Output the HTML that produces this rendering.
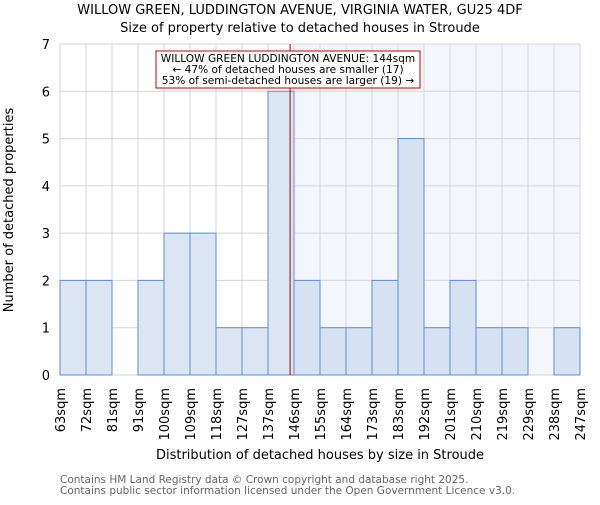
<!DOCTYPE html>
<html><head><meta charset="utf-8"><style>body{margin:0;background:#fff}svg text{font-family:"DejaVu Sans","Liberation Sans",sans-serif}</style></head>
<body>
<svg id="c" width="600" height="500" xmlns="http://www.w3.org/2000/svg"></svg>
<script>
const labels=["63sqm","72sqm","81sqm","91sqm","100sqm","109sqm","118sqm","127sqm","137sqm","146sqm","155sqm","164sqm","173sqm","183sqm","192sqm","201sqm","210sqm","219sqm","229sqm","238sqm","247sqm"];
const counts=[2,2,0,2,3,3,1,1,6,2,1,1,2,5,1,2,1,1,0,1];
const yTicks=[0,1,2,3,4,5,6,7];
const markerBin=8.85;
const NS="http://www.w3.org/2000/svg";
const svg=document.getElementById('c');
const X0=60,X1=580,Y0=375,Y1=44,n=counts.length;
const xs=i=>X0+(X1-X0)*i/n;
const ys=v=>Y0-(Y0-Y1)*v/7;
function el(t,a,txt){const e=document.createElementNS(NS,t);for(const k in a)e.setAttribute(k,a[k]);if(txt!=null)e.textContent=txt;svg.appendChild(e);return e;}
const mx=xs(markerBin);
let e=el('rect',{x:mx,y:Y1,width:X1-mx,height:Y0-Y1,fill:'#f3f6fd'});


for(let i=0;i<=n;i++){e=el('line',{x1:xs(i),x2:xs(i),y1:Y1,y2:Y0,stroke:'#d6d6d6','stroke-width':1});

}
yTicks.forEach(v=>{e=el('line',{x1:X0,x2:X1,y1:ys(v),y2:ys(v),stroke:'#d6d6d6','stroke-width':1});


e=el('text',{x:50,y:ys(v)+5,'text-anchor':'end','font-size':13,fill:'#000'},String(v));

});
counts.forEach((c,i)=>{if(!c)return;const after=i>=9;
e=el('rect',{x:xs(i),y:ys(c),width:xs(i+1)-xs(i),height:Y0-ys(c),fill:after?'#d6e1f2':'#dce6f3',stroke:'#5b8ed6','stroke-width':1});

});
labels.forEach((l,i)=>{const x=xs(i)+5;
e=el('text',{x:x,y:388,transform:`rotate(-90 ${x} 388)`,'text-anchor':'end','font-size':13},l);

});
e=el('line',{x1:mx,x2:mx,y1:Y1,y2:Y0,stroke:'#a00000','stroke-width':1});


e=el('rect',{x:156,y:51,width:264,height:37,fill:'#fff',stroke:'#c00000','stroke-width':1});


["WILLOW GREEN LUDDINGTON AVENUE: 144sqm","← 47% of detached houses are smaller (17)","53% of semi-detached houses are larger (19) →"].forEach((t,k)=>{
e=el('text',{x:288,y:62+k*11,'text-anchor':'middle','font-size':10.6},t);

});
e=el('text',{x:300,y:14,'text-anchor':'middle','font-size':13},"WILLOW GREEN, LUDDINGTON AVENUE, VIRGINIA WATER, GU25 4DF");


e=el('text',{x:300,y:32,'text-anchor':'middle','font-size':13},"Size of property relative to detached houses in Stroude");


e=el('text',{x:320,y:459,'text-anchor':'middle','font-size':13},"Distribution of detached houses by size in Stroude");


e=el('text',{x:13,y:210,transform:'rotate(-90 13 210)','text-anchor':'middle','font-size':13},"Number of detached properties");


e=el('text',{x:60,y:483,'font-size':10.5,fill:'#666'},"Contains HM Land Registry data © Crown copyright and database right 2025.");


e=el('text',{x:60,y:494,'font-size':10.5,fill:'#666'},"Contains public sector information licensed under the Open Government Licence v3.0.");


</script>
</body></html>
